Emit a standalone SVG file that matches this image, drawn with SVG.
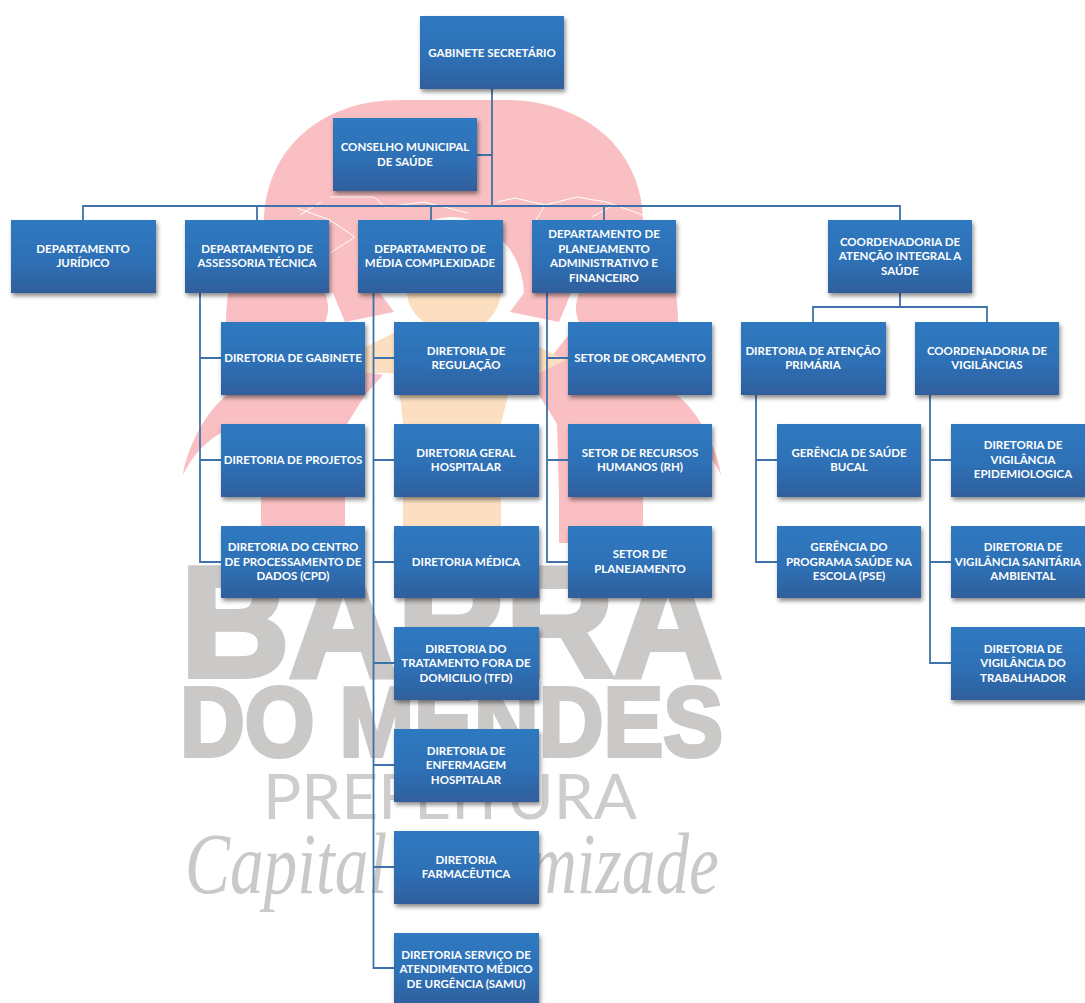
<svg xmlns="http://www.w3.org/2000/svg" xmlns:xlink="http://www.w3.org/1999/xlink" width="1085" height="1003" viewBox="0 0 1085 1003">
<style>
.b{fill:url(#g);filter:url(#s)}
.t{font-family:"Lato","Liberation Sans",sans-serif;font-weight:700;font-size:11.5px;fill:#fff;text-anchor:middle}
.c{fill:none;stroke:#3f72aa;stroke-width:1.8}
.w{font-family:"Liberation Sans",sans-serif;font-weight:700;fill:#cbc9c7;stroke:#cbc9c7}
.h{fill:none;stroke:#fff;stroke-width:1}
.p{fill:#f9bfc2}
.k{fill:#fbdfc0}
</style>
<defs>
<linearGradient id="g" x1="0" y1="0" x2="0" y2="1"><stop offset="0" stop-color="#2e79c0"/><stop offset="0.55" stop-color="#2d70b6"/><stop offset="1" stop-color="#305f9c"/></linearGradient>
<filter id="s" x="-10%" y="-10%" width="125%" height="130%"><feDropShadow dx="1.5" dy="3" stdDeviation="2" flood-color="#000" flood-opacity="0.45"/></filter>
<g id="side">
<path class="p" d="M228 293H325C329 303 329 313 325 322L365 372L383 375L365 395L347 424L345 497V543H261V497L221 433C205 442 192 456 183 475C186 450 205 412 227 395C226 360 224 325 228 293Z"/>
<path class="p" d="M333 293L345 322L394 312L380 293Z"/>
</g>
</defs>
<rect width="1085" height="1003" fill="#fff"/>
<g id="watermark">
<path class="p" d="M264 220C266 150 320 100 400 100H505C585 100 642 150 643 220L676 293H228Z"/>
<path fill="#fff" d="M380 293C382 245 420 217 452 217C484 217 522 245 524 293Z"/>
<use xlink:href="#side" href="#side"/>
<use xlink:href="#side" href="#side" transform="matrix(-1 0 0 1 904 0)"/>
<path class="k" d="M407 293H501C500 305 494 315 486 322V333L510 333L566 360L539 373H508V395L501 424V540H403V424L400 395V373L367 373L338 360L394 333H424V322C414 315 408 305 407 293Z"/>
<path class="h" d="M297 208L330 220L355 237L330 253M321 202L300 215M330 197L374 197L385 207L424 202L468 213M497 202L515 198L545 205L577 197L606 202L643 215M592 217L614 205M534 223L545 205"/>
<text class="w" x="181" y="676" font-size="155" stroke-width="6" textLength="541" lengthAdjust="spacingAndGlyphs">BARRA</text>
<text class="w" x="180" y="756" font-size="98" stroke-width="4" textLength="543" lengthAdjust="spacingAndGlyphs">DO MENDES</text>
<text x="263" y="819" font-family="Lato, sans-serif" font-weight="400" font-size="61" fill="#cfcdcb" textLength="374" lengthAdjust="spacingAndGlyphs">PREFEITURA</text>
<text x="185" y="893" font-family="Liberation Serif, serif" font-style="italic" font-size="86" fill="#c9cac8" textLength="534" lengthAdjust="spacingAndGlyphs">Capital da Amizade</text>
</g>
<g id="connectors">
<path class="c" d="M492 89V206M477 155H492M83 220V206H900V220M257 206V220M431 206V220M604 206V220"/>
<path class="c" d="M200 293V562H221M200 358H221M200 460H221"/>
<path class="c" d="M373.500 293V968H394M373.500 358H394M373.500 460H394M373.500 562H394M373.500 663H394M373.500 765H394M373.500 867H394"/>
<path class="c" d="M547 293V562H568M547 358H568M547 460H568"/>
<path class="c" d="M900 293V307M813 322V307H987V322"/>
<path class="c" d="M756 395V562H777M756 460H777"/>
<path class="c" d="M930 395V663H951M930 460H951M930 562H951"/>
</g>
<g id="n1"><rect class="b" x="420" y="16" width="144" height="73"/><text class="t" x="492" y="57">GABINETE SECRETÁRIO</text></g>
<g id="n2"><rect class="b" x="333" y="118" width="144" height="73"/><text class="t" x="405" y="151">CONSELHO MUNICIPAL</text><text class="t" x="405" y="166">DE SAÚDE</text></g>
<g id="n3"><rect class="b" x="11" y="220" width="145" height="73"/><text class="t" x="83" y="253">DEPARTAMENTO</text><text class="t" x="83" y="267">JURÍDICO</text></g>
<g id="n4"><rect class="b" x="185" y="220" width="144" height="73"/><text class="t" x="257" y="253">DEPARTAMENTO DE</text><text class="t" x="257" y="267">ASSESSORIA TÉCNICA</text></g>
<g id="n5"><rect class="b" x="358" y="220" width="145" height="73"/><text class="t" x="430" y="253">DEPARTAMENTO DE</text><text class="t" x="430" y="267">MÉDIA COMPLEXIDADE</text></g>
<g id="n6"><rect class="b" x="532" y="220" width="144" height="73"/><text class="t" x="604" y="238">DEPARTAMENTO DE</text><text class="t" x="604" y="253">PLANEJAMENTO</text><text class="t" x="604" y="267">ADMINISTRATIVO E</text><text class="t" x="604" y="282">FINANCEIRO</text></g>
<g id="n7"><rect class="b" x="828" y="220" width="144" height="73"/><text class="t" x="900" y="246">COORDENADORIA DE</text><text class="t" x="900" y="260">ATENÇÃO INTEGRAL A</text><text class="t" x="900" y="275">SAÚDE</text></g>
<g id="n8"><rect class="b" x="221" y="322" width="144" height="73"/><text class="t" x="293" y="362">DIRETORIA DE GABINETE</text></g>
<g id="n9"><rect class="b" x="221" y="424" width="144" height="73"/><text class="t" x="293" y="464">DIRETORIA DE PROJETOS</text></g>
<g id="n10"><rect class="b" x="221" y="526" width="144" height="72"/><text class="t" x="293" y="551">DIRETORIA DO CENTRO</text><text class="t" x="293" y="566">DE PROCESSAMENTO DE</text><text class="t" x="293" y="580">DADOS (CPD)</text></g>
<g id="n11"><rect class="b" x="394" y="322" width="145" height="73"/><text class="t" x="466" y="355">DIRETORIA DE</text><text class="t" x="466" y="369">REGULAÇÃO</text></g>
<g id="n12"><rect class="b" x="394" y="424" width="145" height="73"/><text class="t" x="466" y="457">DIRETORIA GERAL</text><text class="t" x="466" y="471">HOSPITALAR</text></g>
<g id="n13"><rect class="b" x="394" y="526" width="145" height="72"/><text class="t" x="466" y="566">DIRETORIA MÉDICA</text></g>
<g id="n14"><rect class="b" x="394" y="627" width="145" height="73"/><text class="t" x="466" y="653">DIRETORIA DO</text><text class="t" x="466" y="667">TRATAMENTO FORA DE</text><text class="t" x="466" y="682">DOMICILIO (TFD)</text></g>
<g id="n15"><rect class="b" x="394" y="729" width="145" height="73"/><text class="t" x="466" y="755">DIRETORIA DE</text><text class="t" x="466" y="769">ENFERMAGEM</text><text class="t" x="466" y="784">HOSPITALAR</text></g>
<g id="n16"><rect class="b" x="394" y="831" width="145" height="73"/><text class="t" x="466" y="864">DIRETORIA</text><text class="t" x="466" y="878">FARMACÊUTICA</text></g>
<g id="n17"><rect class="b" x="394" y="933" width="145" height="73"/><text class="t" x="466" y="959">DIRETORIA SERVIÇO DE</text><text class="t" x="466" y="973">ATENDIMENTO MÉDICO</text><text class="t" x="466" y="988">DE URGÊNCIA (SAMU)</text></g>
<g id="n18"><rect class="b" x="568" y="322" width="144" height="73"/><text class="t" x="640" y="362">SETOR DE ORÇAMENTO</text></g>
<g id="n19"><rect class="b" x="568" y="424" width="144" height="73"/><text class="t" x="640" y="457">SETOR DE RECURSOS</text><text class="t" x="640" y="471">HUMANOS (RH)</text></g>
<g id="n20"><rect class="b" x="568" y="526" width="144" height="72"/><text class="t" x="640" y="558">SETOR DE</text><text class="t" x="640" y="573">PLANEJAMENTO</text></g>
<g id="n21"><rect class="b" x="741" y="322" width="145" height="73"/><text class="t" x="813" y="355">DIRETORIA DE ATENÇÃO</text><text class="t" x="813" y="369">PRIMÁRIA</text></g>
<g id="n22"><rect class="b" x="915" y="322" width="144" height="73"/><text class="t" x="987" y="355">COORDENADORIA DE</text><text class="t" x="987" y="369">VIGILÂNCIAS</text></g>
<g id="n23"><rect class="b" x="777" y="424" width="144" height="73"/><text class="t" x="849" y="457">GERÊNCIA DE SAÚDE</text><text class="t" x="849" y="471">BUCAL</text></g>
<g id="n24"><rect class="b" x="777" y="526" width="144" height="72"/><text class="t" x="849" y="551">GERÊNCIA DO</text><text class="t" x="849" y="566">PROGRAMA SAÚDE NA</text><text class="t" x="849" y="580">ESCOLA (PSE)</text></g>
<g id="n25"><rect class="b" x="951" y="424" width="134" height="73"/><text class="t" x="1023" y="449">DIRETORIA DE</text><text class="t" x="1023" y="464">VIGILÂNCIA</text><text class="t" x="1023" y="478">EPIDEMIOLOGICA</text></g>
<g id="n26"><rect class="b" x="951" y="526" width="134" height="72"/><text class="t" x="1023" y="551">DIRETORIA DE</text><text class="t" x="1018" y="566">VIGILÂNCIA SANITÁRIA</text><text class="t" x="1023" y="580">AMBIENTAL</text></g>
<g id="n27"><rect class="b" x="951" y="627" width="134" height="73"/><text class="t" x="1023" y="653">DIRETORIA DE</text><text class="t" x="1023" y="667">VIGILÂNCIA DO</text><text class="t" x="1023" y="682">TRABALHADOR</text></g>
</svg>
